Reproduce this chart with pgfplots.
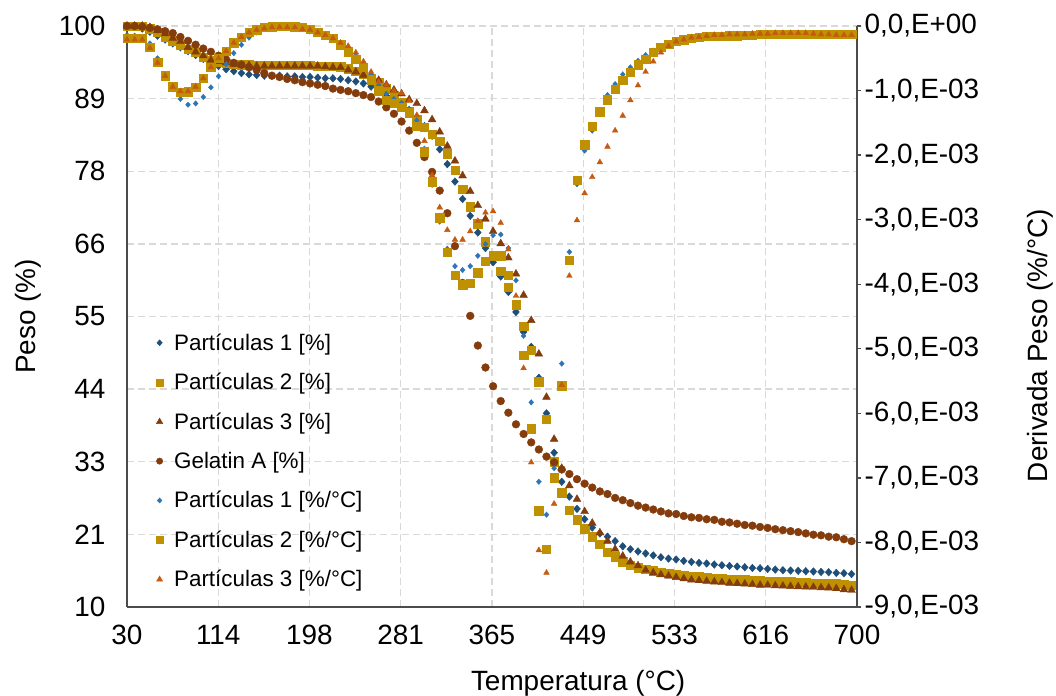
\documentclass[border=0pt]{standalone}
\usepackage{fontspec}
\setmainfont{Liberation Sans}
\usepackage{pgfplots}
\usepackage{pgfplotstable}
\pgfplotsset{compat=1.18}
\definecolor{cPa}{HTML}{1F4E79}
\definecolor{cPb}{HTML}{BF9000}
\definecolor{cPc}{HTML}{843C0C}
\definecolor{cGel}{HTML}{843C0C}
\definecolor{cDa}{HTML}{2E75B6}
\definecolor{cDb}{HTML}{BF9000}
\definecolor{cDc}{HTML}{C55A11}

\pgfplotstableread{
T P1 P2 P3 Gel D1 D2 D3
30 100 100 100 100 -0.14 -0.19 -0.21
37 99.9 100 100 100 -0.15 -0.19 -0.21
44 99.6 100 100 99.9 -0.18 -0.19 -0.21
51 99.1 99.6 99.8 99.7 -0.27 -0.33 -0.34
58 98.5 99.0 99.3 99.5 -0.50 -0.56 -0.57
65 97.9 98.3 98.8 99.2 -0.76 -0.77 -0.77
72 97.3 97.7 98.1 98.9 -0.98 -0.94 -0.94
79 96.7 97.1 97.6 98.3 -1.13 -1.03 -1.01
86 96.1 96.4 96.7 97.7 -1.22 -1.02 -1.01
93 95.5 95.9 96.0 97.1 -1.20 -0.95 -0.94
100 94.9 95.2 95.4 96.5 -1.10 -0.81 -0.81
107 94.4 94.7 94.7 96.0 -0.95 -0.64 -0.64
114 93.8 94.4 94.5 95.4 -0.78 -0.50 -0.50
121 93.3 94.2 94.3 94.8 -0.59 -0.39 -0.39
128 93.0 94.1 94.1 94.3 -0.42 -0.26 -0.26
135 92.7 94.0 94.0 94.0 -0.29 -0.17 -0.17
142 92.5 94.0 93.9 93.6 -0.18 -0.10 -0.10
149 92.4 93.9 93.8 93.2 -0.10 -0.06 -0.06
156 92.3 93.9 93.8 92.7 -0.05 -0.02 -0.04
163 92.3 93.9 93.8 92.3 -0.02 -0.01 -0.02
170 92.3 93.9 93.8 92.1 -0.01 0.00 -0.02
177 92.2 93.9 93.8 91.8 -0.01 0.00 -0.02
184 92.2 93.9 93.8 91.6 -0.01 -0.01 -0.02
191 92.1 93.9 93.8 91.3 -0.02 -0.02 -0.05
198 92.1 93.9 93.8 91.1 -0.04 -0.05 -0.06
205 92.0 93.8 93.8 90.9 -0.08 -0.10 -0.10
212 91.9 93.8 93.7 90.7 -0.13 -0.14 -0.14
219 91.9 93.8 93.6 90.3 -0.19 -0.19 -0.19
226 91.8 93.7 93.6 90.1 -0.27 -0.29 -0.26
233 91.6 93.4 93.2 89.9 -0.36 -0.40 -0.31
240 91.4 93.0 92.9 89.6 -0.46 -0.51 -0.41
247 91.1 92.6 92.4 89.3 -0.58 -0.64 -0.55
254 90.6 91.9 92.0 89.0 -0.75 -0.83 -0.71
261 90.1 91.2 91.6 88.3 -0.92 -1.00 -0.86
268 89.2 90.3 90.9 87.4 -1.05 -1.15 -0.91
275 88.5 89.2 90.1 86.4 -1.13 -1.20 -1.00
282 87.8 88.1 89.5 85.2 -1.19 -1.26 -1.04
289 86.6 86.7 88.6 83.8 -1.28 -1.34 -1.16
296 85.7 85.5 88.0 81.9 -1.46 -1.55 -1.38
303 84.5 84.3 86.9 79.7 -1.90 -1.95 -1.78
310 83.0 83.2 85.5 77.4 -2.46 -2.41 -2.31
317 80.9 82.2 83.6 74.5 -3.03 -2.97 -2.81
324 78.6 80.2 81.4 71.0 -3.45 -3.50 -3.16
331 75.9 77.7 79.1 65.9 -3.72 -3.86 -3.31
338 73.2 74.7 76.8 60.2 -3.78 -4.01 -3.31
345 70.6 72.0 74.4 55.1 -3.72 -3.98 -3.18
352 68.0 69.4 72.2 50.5 -3.56 -3.82 -3.02
359 65.6 66.6 70.1 47.1 -3.38 -3.64 -2.89
366 63.4 64.3 68.2 44.2 -3.24 -3.56 -2.87
373 61.2 62.0 66.3 41.9 -3.23 -3.56 -3.05
380 58.8 59.5 64.1 40.1 -3.44 -3.86 -3.46
387 55.7 56.8 61.6 38.3 -3.94 -4.32 -4.18
394 52.6 53.5 58.3 36.8 -4.80 -5.10 -5.30
401 50.3 49.8 54.4 35.5 -5.83 -6.24 -6.76
408 45.5 44.9 49.2 34.4 -7.06 -7.51 -8.12
415 40.0 39.1 42.5 33.3 -7.57 -8.10 -8.47
422 33.9 32.5 36.0 32.4 -6.85 -7.00 -7.40
429 29.4 27.7 31.5 31.3 -5.23 -5.57 -5.56
436 27.1 25.0 28.8 30.6 -3.50 -3.63 -3.87
443 25.2 23.5 26.7 29.8 -2.45 -2.39 -3.01
450 23.6 22.1 24.8 29.1 -1.93 -1.84 -2.59
457 22.3 20.9 23.0 28.5 -1.62 -1.55 -2.34
464 21.4 19.7 21.5 27.9 -1.32 -1.33 -2.11
471 20.9 18.5 20.2 27.5 -1.07 -1.14 -1.87
478 20.2 17.8 18.95 26.9 -0.90 -0.98 -1.62
485 19.4 17.0 17.9 26.55 -0.75 -0.84 -1.39
492 18.95 16.5 17.0 26.1 -0.64 -0.72 -1.15
499 18.6 16.1 16.4 25.7 -0.54 -0.60 -0.92
506 18.3 15.85 15.7 25.4 -0.45 -0.51 -0.71
513 18.0 15.6 15.3 25.1 -0.38 -0.41 -0.55
520 17.7 15.4 15.0 24.8 -0.32 -0.33 -0.41
527 17.5 15.2 14.8 24.5 -0.27 -0.28 -0.31
534 17.36 15.1 14.6 24.4 -0.23 -0.24 -0.24
541 17.14 14.9 14.4 24.1 -0.20 -0.21 -0.21
548 16.99 14.8 14.2 23.9 -0.18 -0.19 -0.18
555 16.83 14.7 14.1 23.8 -0.17 -0.175 -0.17
562 16.74 14.6 14.0 23.6 -0.16 -0.16 -0.155
569 16.58 14.5 13.9 23.5 -0.16 -0.16 -0.14
576 16.47 14.4 13.8 23.2 -0.15 -0.155 -0.14
583 16.36 14.3 13.7 23.1 -0.15 -0.15 -0.13
590 16.27 14.25 13.64 22.9 -0.15 -0.15 -0.13
597 16.16 14.2 13.57 22.7 -0.15 -0.14 -0.13
604 16.05 14.15 13.5 22.6 -0.14 -0.14 -0.12
611 16.0 14.1 13.4 22.4 -0.14 -0.13 -0.12
618 15.9 14.04 13.37 22.25 -0.14 -0.13 -0.12
625 15.8 14.0 13.3 22.05 -0.14 -0.13 -0.11
632 15.7 13.95 13.26 21.9 -0.14 -0.13 -0.11
639 15.65 13.9 13.2 21.75 -0.14 -0.13 -0.11
646 15.6 13.84 13.16 21.6 -0.14 -0.13 -0.11
653 15.54 13.8 13.1 21.4 -0.14 -0.13 -0.11
660 15.5 13.73 13.06 21.2 -0.14 -0.13 -0.12
667 15.43 13.7 13.0 21.1 -0.14 -0.13 -0.13
674 15.39 13.64 12.96 20.9 -0.14 -0.13 -0.13
681 15.28 13.6 12.86 20.8 -0.14 -0.13 -0.14
688 15.23 13.53 12.7 20.5 -0.14 -0.13 -0.14
695 15.1 13.4 12.6 20.2 -0.14 -0.13 -0.14
}\data

\pgfplotsset{
  base/.style={
    at={(127bp,89bp)}, anchor=south west, scale only axis,
    width=730bp, height=581bp,
    xmin=30, xmax=700, clip=false,
    tick label style={font=\fontsize{28}{33}\selectfont},
    axis line style={black!70, line width=1.3bp},
  }
}

\begin{document}
\begin{tikzpicture}
\path[use as bounding box] (0,0) rectangle (1056bp,696bp);
\begin{axis}[base,
  axis x line*=bottom, axis y line*=left,
  ymin=10, ymax=100,
  xtick={30,113.75,197.5,281.25,365,448.75,532.5,616.25,700},
  xticklabels={30,114,198,281,365,449,533,616,700},
  ytick={10,21.25,32.5,43.75,55,66.25,77.5,88.75,100},
  yticklabels={10,21,33,44,55,66,78,89,100},
  major tick length=0pt,
  grid=major,
  major grid style={black!15, line width=1.3bp, dash pattern=on 7bp off 4bp},
  xticklabel style={yshift=-15bp},
  yticklabel style={xshift=-18bp},
  xlabel={Temperatura (°C)}, ylabel={Peso (\%)},
  every axis x label/.style={at={(axis description cs:0.618,-0.131)},anchor=center,font=\fontsize{28}{33}\selectfont},
  every axis y label/.style={at={(axis description cs:-0.1356,0.5)},anchor=center,rotate=90,font=\fontsize{28}{33}\selectfont},
]
\addplot[only marks, mark=diamond*, color=cPa, mark size=3.8bp, mark options={xscale=1.2}] table[x=T,y=P1]{\data};
\addplot[only marks, mark=square*, color=cPb, mark size=4.2bp] table[x=T,y=P2]{\data};
\addplot[only marks, mark=triangle*, color=cPc, mark size=4.5bp] table[x=T,y=P3]{\data};
\addplot[only marks, mark=*, color=cGel, mark size=3.9bp] table[x=T,y=Gel]{\data};
\end{axis}
\begin{axis}[base,
  axis x line=none, axis y line*=right,
  ymin=-9, ymax=0, ytick={-9,-8,-7,-6,-5,-4,-3,-2,-1,0},
  yticklabels={{-9,0,E-03},{-8,0,E-03},{-7,0,E-03},{-6,0,E-03},{-5,0,E-03},{-4,0,E-03},{-3,0,E-03},{-2,0,E-03},{-1,0,E-03},{0,0,E+00}},
  tick align=outside, major tick length=4bp,
  tick style={black!70, line width=1.3bp},
  ylabel={Derivada Peso (\%/°C)},
  every axis y label/.style={at={(axis description cs:1.2507,0.45)},anchor=center,rotate=90,font=\fontsize{28}{33}\selectfont},
  legend style={at={(axis description cs:0.0396,0.474)}, anchor=north west, draw=none, fill=none,
    font=\fontsize{22.5}{26}\selectfont, row sep=17.5bp, inner sep=0pt, cells={anchor=west},
    /tikz/every odd column/.append style={column sep=9bp}},
  legend image code/.code={\draw[#1] plot coordinates {(0bp,0bp)};},
]
\addlegendimage{only marks, mark=diamond*, color=cPa, mark size=3bp, mark options={xscale=1.2}}
\addlegendimage{only marks, mark=square*, color=cPb, mark size=3.5bp}
\addlegendimage{only marks, mark=triangle*, color=cPc, mark size=3.8bp}
\addlegendimage{only marks, mark=*, color=cGel, mark size=3.2bp}
\addlegendimage{only marks, mark=diamond*, color=cDa, mark size=2.6bp, mark options={xscale=1.2}}
\addlegendimage{only marks, mark=square*, color=cDb, mark size=3.5bp}
\addlegendimage{only marks, mark=triangle*, color=cDc, mark size=3.5bp}
\legend{{Partículas 1 [\%]},{Partículas 2 [\%]},{Partículas 3 [\%]},{Gelatin A [\%]},{Partículas 1 [\%/°C]},{Partículas 2 [\%/°C]},{Partículas 3 [\%/°C]}}
\addplot[forget plot, only marks, mark=diamond*, color=cDa, mark size=2.7bp, mark options={xscale=1.2}] table[x=T,y=D1]{\data};
\addplot[forget plot, only marks, mark=square*, color=cDb, mark size=4.2bp] table[x=T,y=D2]{\data};
\addplot[forget plot, only marks, mark=triangle*, color=cDc, mark size=3.3bp] table[x=T,y=D3]{\data};
\end{axis}
\end{tikzpicture}
\end{document}
